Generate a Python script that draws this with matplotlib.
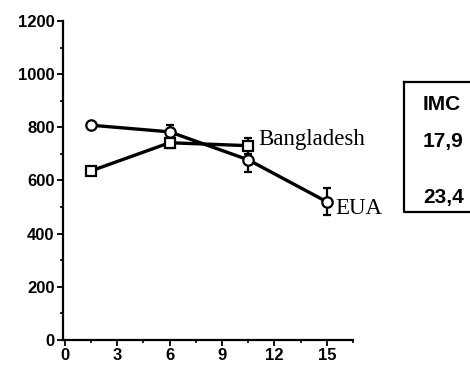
import matplotlib
matplotlib.use("Agg")
import matplotlib.pyplot as plt
from matplotlib.ticker import MultipleLocator
from matplotlib.lines import Line2D

# Age (x) and mean values with error bars for each group
eua_x = [1.5, 6, 10.5, 15]
eua_y = [808, 783, 678, 520]
eua_err = [0, 25, 45, 50]

bang_x = [1.5, 6, 10.5]
bang_y = [636, 742, 731]
bang_err = [8, 20, 30]

x_ticks = [0, 3, 6, 9, 12, 15]
y_ticks = [0, 200, 400, 600, 800, 1000, 1200]

imc_header = "IMC"
imc_values = ["17,9", "23,4"]

fig = plt.figure(figsize=(4.7, 3.65), dpi=100)
ax = fig.add_axes([0.134, 0.0685, 0.617, 0.874])

common = dict(color="black", lw=2.4, markersize=7.5, markeredgewidth=1.6,
              markerfacecolor="white", markeredgecolor="black",
              elinewidth=1.6, capsize=3, capthick=1.6, zorder=3)
ax.errorbar(eua_x, eua_y, yerr=eua_err, marker="o", **common)
ax.errorbar(bang_x, bang_y, yerr=bang_err, marker="s", **common)

ax.set_xlim(-0.1, 16.5)
ax.set_ylim(0, 1200)
ax.set_xticks(x_ticks)
ax.set_yticks(y_ticks)
ax.xaxis.set_minor_locator(MultipleLocator(1.5))
ax.yaxis.set_minor_locator(MultipleLocator(100))

for s in ["top", "right"]:
    ax.spines[s].set_visible(False)
for s in ["left", "bottom"]:
    ax.spines[s].set_linewidth(1.6)

ax.tick_params(axis="both", which="major", direction="out", length=4, width=1.3,
               labelsize=12, pad=2)
ax.tick_params(axis="both", which="minor", direction="out", length=2.5, width=1.2)
for lbl in ax.get_xticklabels() + ax.get_yticklabels():
    lbl.set_fontfamily("Liberation Sans")
    lbl.set_fontweight("bold")

ax.text(11.1, bang_y[2] + 25, "Bangladesh", family="Liberation Serif",
        fontsize=16.5, va="center", ha="left")
ax.text(15.5, eua_y[3] - 25, "EUA", family="Liberation Serif",
        fontsize=16.5, va="center", ha="left")

# IMC box at the right edge
fig.add_artist(Line2D([404 / 470, 404 / 470, 1.0], [1 - 82 / 365, 1 - 212 / 365, 1 - 212 / 365],
                      transform=fig.transFigure, color="black", lw=1.6))
fig.add_artist(Line2D([404 / 470, 1.0], [1 - 82 / 365, 1 - 82 / 365],
                      transform=fig.transFigure, color="black", lw=1.6))
fig.text(423 / 470, 1 - 105 / 365, imc_header, family="Liberation Sans",
         fontweight="bold", fontsize=15, va="center", ha="left")
for v, yy in zip(imc_values, [142, 197]):
    fig.text(423 / 470, 1 - yy / 365, v, family="Liberation Sans",
             fontweight="bold", fontsize=15, va="center", ha="left")

fig.savefig("out.png", dpi=100)
